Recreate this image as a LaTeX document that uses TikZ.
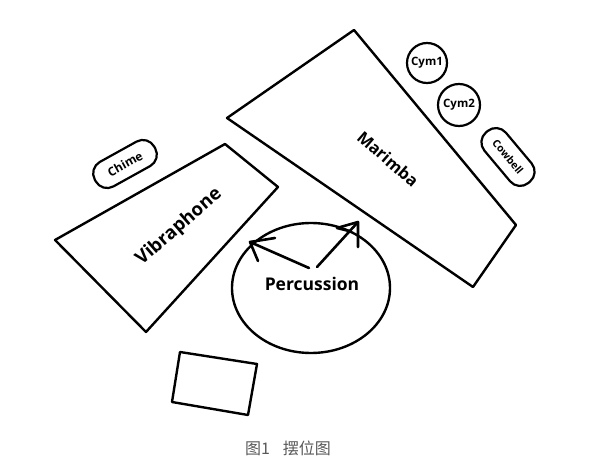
\documentclass[tikz,border=0pt]{standalone}
\usepackage{fontspec}
\setmainfont{Open Sans}
\newfontfamily\cjk{Noto Sans CJK SC}
\begin{document}
\begin{tikzpicture}[x=1pt,y=-1pt,
  outl/.style={draw=black,line width=2.4pt,line join=round},
  lbl/.style={font=\bfseries\fontsize{#1}{#1}\selectfont,inner sep=0pt},
  capsule/.style={draw=black,line width=2.2pt,rounded corners=13pt,minimum width=#1,minimum height=28pt,inner sep=0pt},
  disc/.style={draw=black,line width=2.2pt,circle,minimum size=#1,inner sep=0pt},
  barb/.style={draw=black,line width=2.6pt,line cap=round,line join=round}]
\useasboundingbox (0,0) rectangle (600,473);
% Marimba
\coordinate (m1) at (354,30);
\coordinate (m2) at (516,225);
\coordinate (m3) at (473,287);
\coordinate (m4) at (227,118);
\draw[outl] (m1) -- (m2) -- (m3) -- (m4) -- cycle;
\node[lbl=16.5, rotate=-41] (marimba) at (388,159) {Marimba};
% Vibraphone
\coordinate (v1) at (225,144);
\coordinate (v2) at (278,187);
\coordinate (v3) at (146,332);
\coordinate (v4) at (55,240);
\draw[outl] (v1) -- (v2) -- (v3) -- (v4) -- cycle;
\node[lbl=18.5, rotate=41] (vibraphone) at (179,227) {Vibraphone};
% Chime
\node[capsule=68pt, rotate=29, lbl=12] (chime) at (125,164) {Chime};
% Cymbals and cowbell
\node[disc=40pt, lbl=11.5] (cym1) at (427,63) {Cym1};
\node[disc=42pt, lbl=11.5] (cym2) at (459,105) {Cym2};
\node[capsule=66pt, rotate=-50, lbl=10.5] (cowbell) at (508,157) {Cowbell};
% Percussion
\draw[outl] (311,288) ellipse [x radius=79, y radius=65];
\node[lbl=17.5] (perc) at (312,284) {Percussion};
% arrows
\coordinate (s1) at (309,268);
\coordinate (t1) at (250,242);
\coordinate (b1a) at (275,238);
\coordinate (b1b) at (258,261);
\coordinate (s2) at (317,267);
\coordinate (t2) at (358,222);
\coordinate (b2a) at (337,228);
\coordinate (b2b) at (358,247);
\coordinate (b2c) at (349,231);
\draw[barb] (s1) -- (t1);
\draw[barb] (b1a) -- (t1) -- (b1b);
\draw[barb] (s2) -- (t2);
\draw[barb] (b2b) -- (t2) -- (b2a) -- (b2c);
% Box
\coordinate (r1) at (180,352);
\coordinate (r2) at (257,364);
\coordinate (r3) at (248,415);
\coordinate (r4) at (172,402);
\draw[outl] (r1) -- (r2) -- (r3) -- (r4) -- cycle;
% Caption
\node[font=\cjk\fontsize{16}{16}\selectfont, text=black!65, inner sep=0pt] (caption) at (288,448) {图1\hspace{0.8em}摆位图};
\end{tikzpicture}
\end{document}
